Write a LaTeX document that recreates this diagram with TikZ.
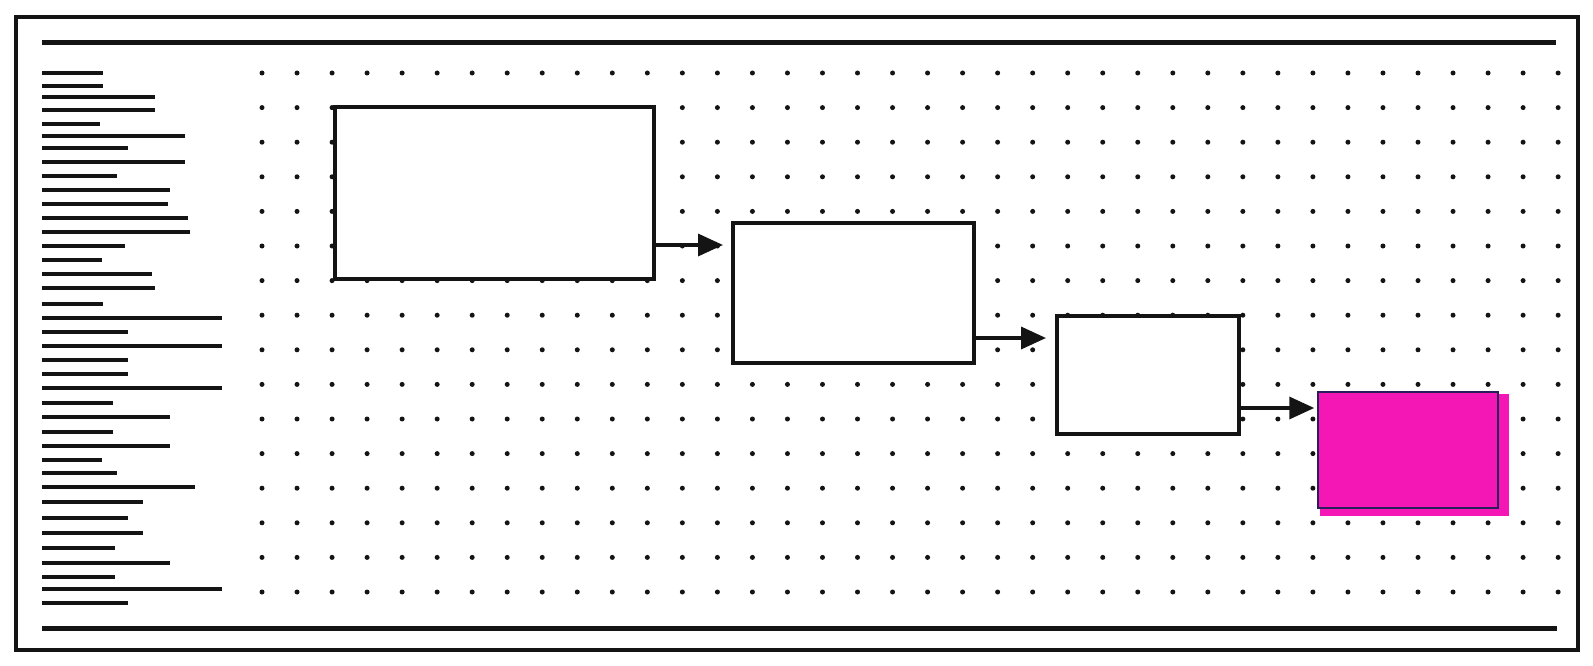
\documentclass[tikz,border=0pt]{standalone}
\usetikzlibrary{arrows.meta}
\definecolor{ink}{RGB}{20,20,20}
\definecolor{hotpink}{RGB}{245,22,182}
\definecolor{navyline}{RGB}{40,30,90}
\tikzset{
  frameline/.style={draw=ink, line width=3.5pt},
  ruleline/.style={draw=ink, line width=5pt},
  greek/.style={draw=ink, line width=4.5pt},
  griddot/.style={fill=ink},
  flowbox/.style={draw=ink, fill=white, line width=4pt, inner sep=0pt, rectangle},
  goalbox/.style={draw=navyline, fill=hotpink, line width=1.5pt, inner sep=0pt, rectangle},
  flowarrow/.style={draw=ink, line width=3.5pt, -{Triangle[length=25pt,width=22pt]}}
}
\begin{document}
\begin{tikzpicture}[x=1pt,y=-1pt]
\useasboundingbox[fill=white] (0,0) rectangle (1593,666);
% outer frame
\draw[frameline] (16,17) rectangle (1578,650);
% top and bottom rules
\draw[ruleline] (42,43) -- (1556,43);
\draw[ruleline] (42,628) -- (1557,628);
% greeked text column
\foreach \yy/\xe in {73/103,86/103,97/155,110/155,124/100,136/185,148/128,162/185,176/117,190/170,
  204/168,218/188,232/190,246/125,260/102,274/152,288/155,304/103,318/222,332/128,346/222,360/128,
  374/128,388/222,403/113,417/170,432/113,446/170,460/102,473/117,487/195,502/143,518/128,533/143,
  548/115,563/170,577/115,589/222,603/128}
  \draw[greek] (42,\yy) -- (\xe,\yy);
% dot grid
\foreach \i in {0,...,37}
  \foreach \j in {0,...,15}
    \fill[griddot] ({262+35.03*\i},{73+34.6*\j}) circle (2.5);
% boxes
\node[flowbox, minimum width=319pt, minimum height=172pt] (b1) at (494.5,193) {};
\node[flowbox, minimum width=241pt, minimum height=140pt] (b2) at (853.5,293) {};
\node[flowbox, minimum width=182pt, minimum height=118pt] (b3) at (1148,375) {};
\fill[hotpink] (1320,394) rectangle (1509,516);
\node[goalbox, minimum width=180pt, minimum height=116pt] (b4) at (1408,450) {};
% arrow levels
\coordinate (a1) at (0,245);
\coordinate (a2) at (0,338);
\coordinate (a3) at (0,408);
\draw[flowarrow, shorten >=8pt] (b1.east |- a1) -- (b2.west |- a1);
\draw[flowarrow, shorten >=9pt] (b2.east |- a2) -- (b3.west |- a2);
\draw[flowarrow, shorten >=3pt] (b3.east |- a3) -- (b4.west |- a3);
\end{tikzpicture}
\end{document}
